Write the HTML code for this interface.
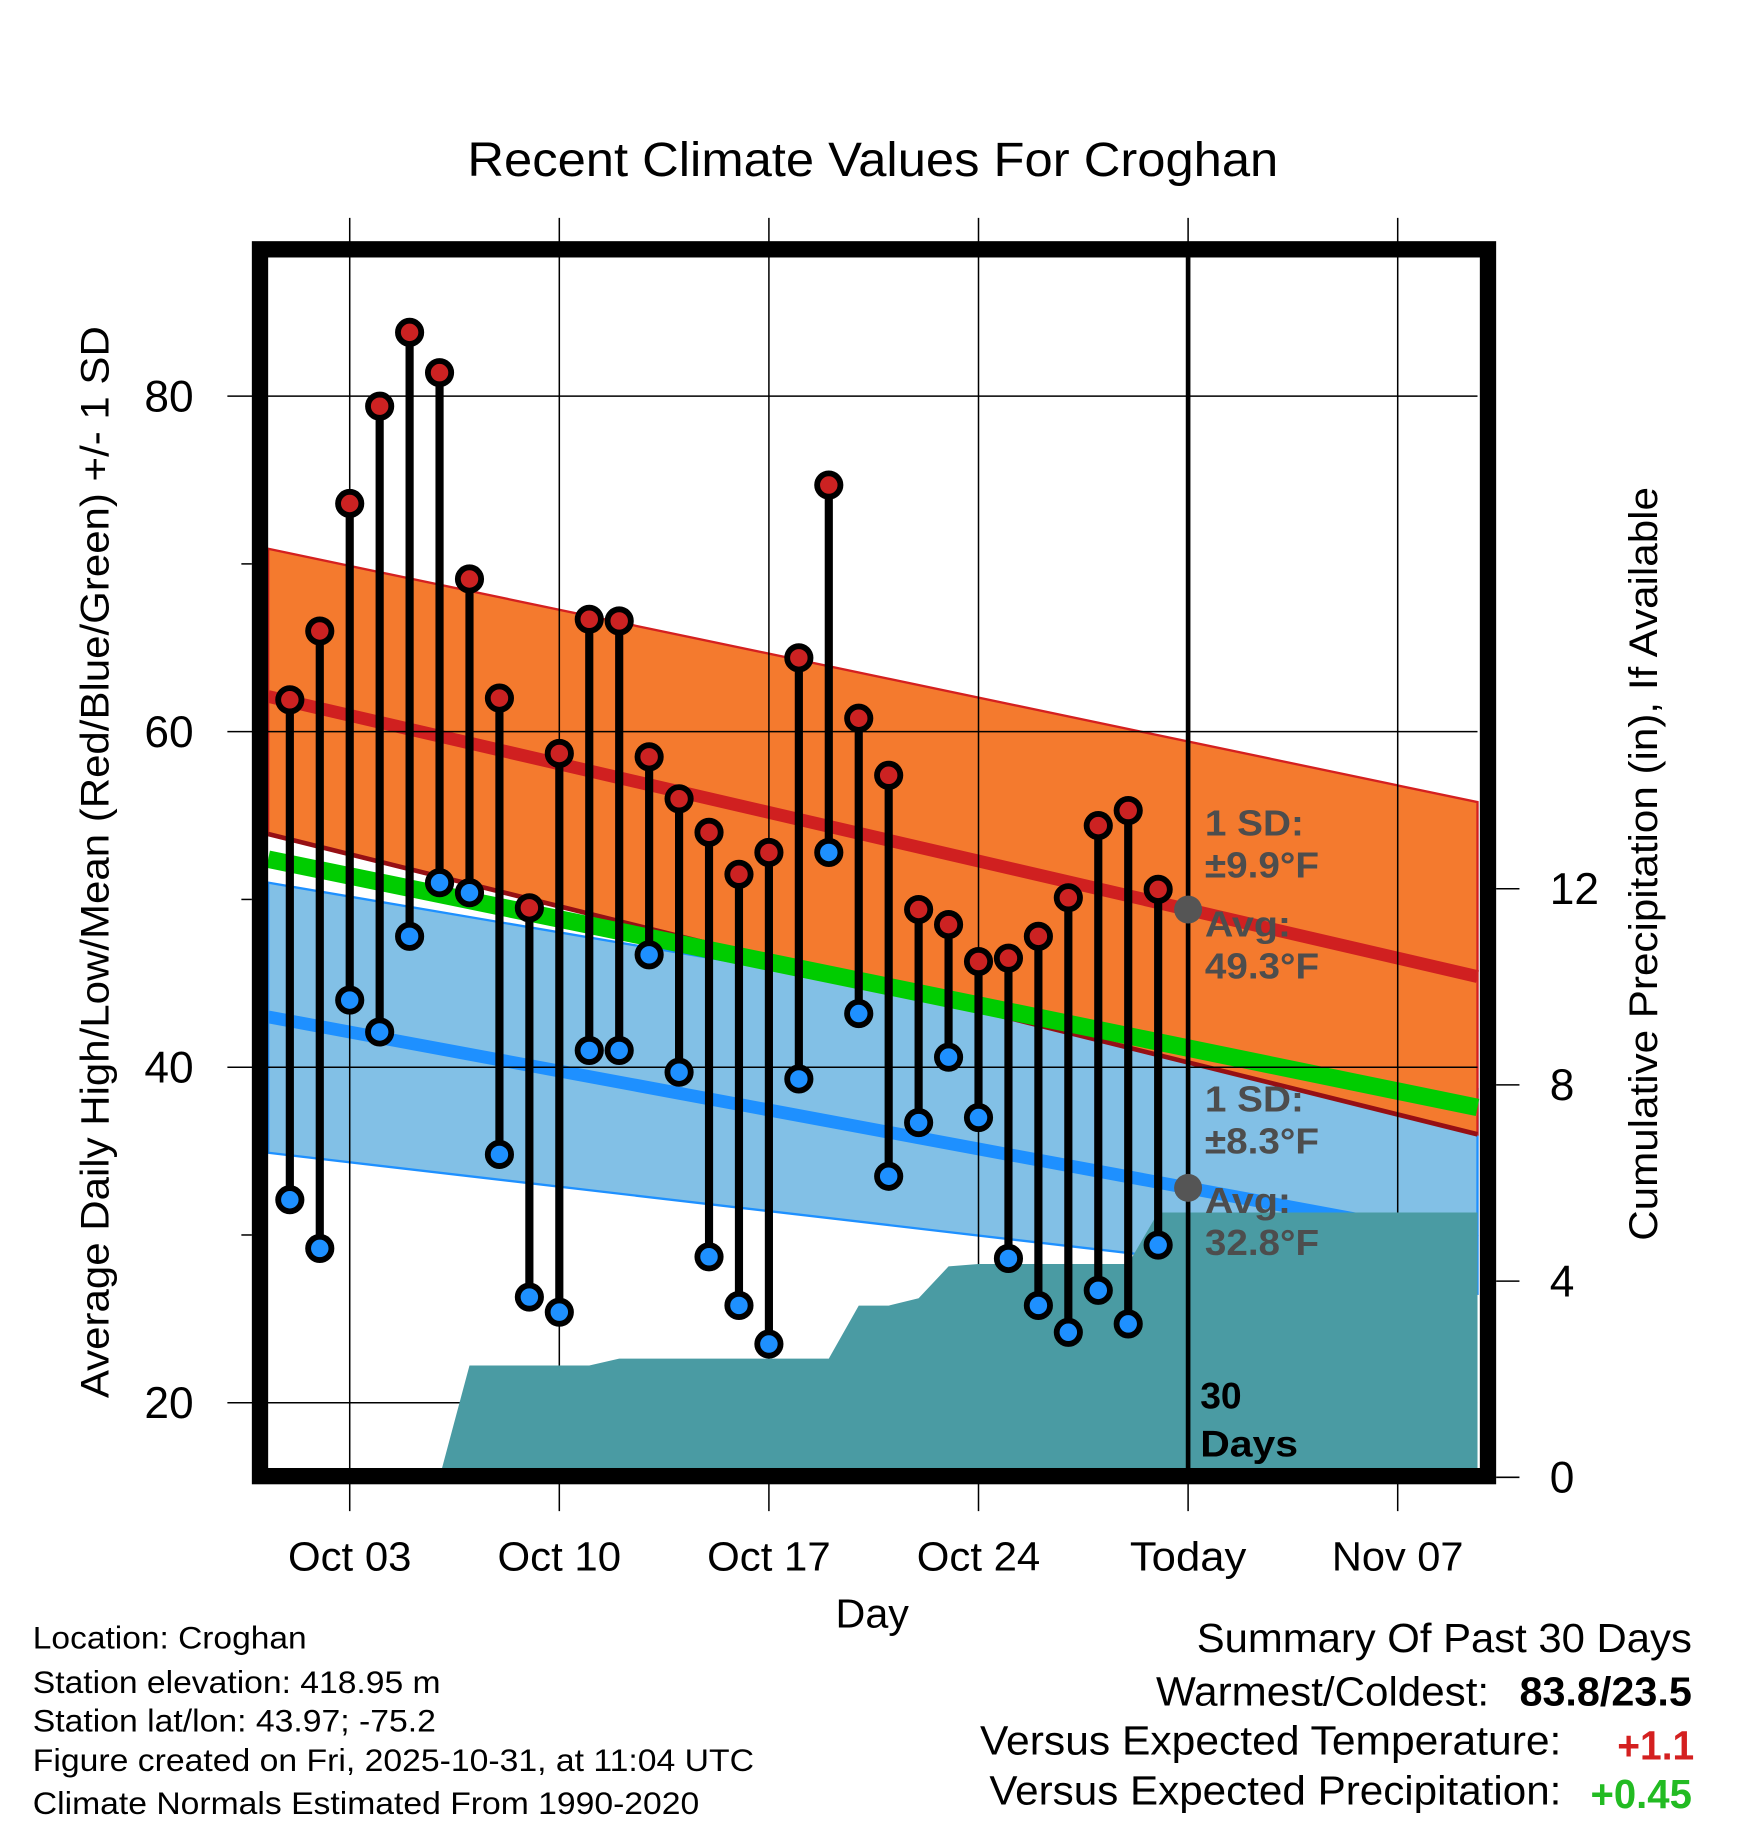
<!DOCTYPE html>
<html><head><meta charset="utf-8"><style>
html,body{margin:0;padding:0;background:#fff}
svg{display:block}
text{font-family:"Liberation Sans",Arial,sans-serif}
</style></head><body>
<svg id="chart" width="1748" height="1828" viewBox="0 0 1500 1569" xmlns="http://www.w3.org/2000/svg">
<g id="bands"></g><g id="grid"></g><g id="precip"></g><g id="overlay"></g><g id="marks"></g><g id="frame"></g><g id="labels"></g>
</svg>
<script>
const days = ["Oct 01","Oct 02","Oct 03","Oct 04","Oct 05","Oct 06","Oct 07","Oct 08","Oct 09","Oct 10","Oct 11","Oct 12","Oct 13","Oct 14","Oct 15","Oct 16","Oct 17","Oct 18","Oct 19","Oct 20","Oct 21","Oct 22","Oct 23","Oct 24","Oct 25","Oct 26","Oct 27","Oct 28","Oct 29","Oct 30"];
const highs = [61.9,66.0,73.6,79.4,83.8,81.4,69.1,62.0,49.5,58.7,66.7,66.6,58.5,56.0,54.0,51.5,52.8,64.4,74.7,60.8,57.4,49.4,48.5,46.3,46.5,47.8,50.1,54.4,55.3,50.6];
const lows = [32.1,29.2,44.0,42.1,47.8,51.0,50.4,34.8,26.3,25.4,41.0,41.0,46.7,39.7,28.7,25.8,23.5,39.3,52.8,43.2,33.5,36.7,40.6,37.0,28.6,25.8,24.2,26.7,24.7,29.4];
const precip = [0,0,0,0,0,0,2.28,2.28,2.28,2.28,2.28,2.42,2.42,2.42,2.42,2.42,2.42,2.42,2.42,3.5,3.5,3.65,4.3,4.35,4.35,4.35,4.35,4.35,4.35,5.4];
const normHighMean = [62.1,45.4];
const normHighUpper = [70.9,55.8];
const normHighLower = [53.9,36.0];
const normLowMean = [43.0,29.6];
const normLowUpper = [51.0,38.7];
const normLowLower = [34.9,26.5];
const normMean = [52.4,37.6];
const yTicks = [20,40,60,80];
const yMinor = [30,50,70];
const pTicks = [0,4,8,12];
const xTickDays = [3,10,17,24,31,38];
const xTickLabels = ["Oct 03","Oct 10","Oct 17","Oct 24","Today","Nov 07"];

const NS="http://www.w3.org/2000/svg";
const L=230,R=1268,T=221,B=1260;
const x=d=>248.6+(d-1)*25.7;
const y=t=>340+(80-t)*14.4;
const yp=p=>1268-p*42.1;
const d0=(L-248.6)/25.7+1, d1=(R-248.6)/25.7+1;
function el(tag,attrs,parent,txt){const e=document.createElementNS(NS,tag);for(const k in attrs)e.setAttribute(k,attrs[k]);if(txt!==undefined)e.textContent=txt;document.getElementById(parent).appendChild(e);return e;}
function band(a,b){return `M${L},${y(a[0])} L${R},${y(a[1])} L${R},${y(b[1])} L${L},${y(b[0])} Z`;}

let e;
e=el('path',{d:band(normLowUpper,normLowLower),fill:'#82c0e6',stroke:'#1e90ff','stroke-width':2},'bands');

e=el('path',{d:band(normHighUpper,normHighLower),fill:'#f47a2e',stroke:'#d42020','stroke-width':2},'bands');

e=el('line',{x1:L,y1:y(normHighLower[0]),x2:R,y2:y(normHighLower[1]),stroke:'#960f14','stroke-width':4},'bands');

e=el('line',{x1:L,y1:y(normMean[0]),x2:R,y2:y(normMean[1]),stroke:'#00cc00','stroke-width':15},'bands');

e=el('line',{x1:L,y1:y(normHighMean[0]),x2:R,y2:y(normHighMean[1]),stroke:'#d02020','stroke-width':11},'bands');

e=el('line',{x1:L,y1:y(normLowMean[0]),x2:R,y2:y(normLowMean[1]),stroke:'#1e90ff','stroke-width':11},'bands');


yTicks.forEach(t=>{
 e=el('line',{x1:195,y1:y(t),x2:R,y2:y(t),stroke:'#000','stroke-width':1.3},'grid');
 
 e=el('text',{x:166,y:y(t)+13,'font-size':38,'text-anchor':'end'},'labels',String(t));
 
});
yMinor.forEach(t=>{
 e=el('line',{x1:207,y1:y(t),x2:216,y2:y(t),stroke:'#000','stroke-width':1.3},'grid');
 
});
xTickDays.forEach((d,i)=>{
 e=el('line',{x1:x(d),y1:187,x2:x(d),y2:1297,stroke:'#000','stroke-width':1.3},'grid');
 
 const lab=xTickLabels[i];
 const len=lab==="Today"?100:(lab.startsWith("Nov")?113:106);
 e=el('text',{x:x(d),y:1348,'font-size':35,'text-anchor':'middle',textLength:len,lengthAdjust:'spacingAndGlyphs'},'labels',lab);
 
});
pTicks.forEach(p=>{
 e=el('line',{x1:1284,y1:yp(p),x2:1304,y2:yp(p),stroke:'#000','stroke-width':1.3},'grid');
 
 e=el('text',{x:1330,y:yp(p)+13,'font-size':38},'labels',String(p));
 
});

let pd=`M${x(0)},${B} L${x(0)},${yp(0)}`;
precip.forEach((p,i)=>{pd+=` L${x(i+1)},${yp(p)}`;});
pd+=` L${R},${yp(precip[precip.length-1])} L${R},${B} Z`;
e=el('path',{d:pd,fill:'#4a9ba3'},'precip');


e=el('line',{x1:x(31),y1:T,x2:x(31),y2:B,stroke:'#000','stroke-width':4},'overlay');

const hmToday=normHighMean[0]+(normHighMean[1]-normHighMean[0])*(31-d0)/(d1-d0);
const lmToday=normLowMean[0]+(normLowMean[1]-normLowMean[0])*(31-d0)/(d1-d0);
e=el('circle',{cx:x(31),cy:y(hmToday),r:12,fill:'#555'},'overlay');

e=el('circle',{cx:x(31),cy:y(lmToday),r:12,fill:'#555'},'overlay');

[["1 SD:",717,85],["±9.9°F",753,98],["Avg:",804,74],["49.3°F",840,98],["1 SD:",954,85],["±8.3°F",990,98],["Avg:",1041,74],["32.8°F",1077,98]].forEach(a=>{
 e=el('text',{x:1034,y:a[1],'font-size':31,'font-weight':'bold',fill:'#4d4d4d',textLength:a[2],lengthAdjust:'spacingAndGlyphs'},'overlay',a[0]);
 
});
e=el('text',{x:1030,y:1209,'font-size':32,'font-weight':'bold'},'overlay','30');

e=el('text',{x:1030,y:1250,'font-size':32,'font-weight':'bold',textLength:84,lengthAdjust:'spacingAndGlyphs'},'overlay','Days');


highs.forEach((h,i)=>{
 const cx=x(i+1);
 e=el('line',{x1:cx,y1:y(h),x2:cx,y2:y(lows[i]),stroke:'#000','stroke-width':7},'marks');
 
 e=el('circle',{cx:cx,cy:y(h),r:10,fill:'#cc2222',stroke:'#000','stroke-width':5},'marks');
 
 e=el('circle',{cx:cx,cy:y(lows[i]),r:10,fill:'#1e90ff',stroke:'#000','stroke-width':5},'marks');
 
});

e=el('rect',{x:223,y:214,width:1054,height:1053,fill:'none',stroke:'#000','stroke-width':14},'frame');

</script>
<svg style="position:absolute;left:0;top:0" width="1748" height="1828" viewBox="0 0 1500 1569">
<text x="401" y="151" font-size="41" textLength="696" lengthAdjust="spacingAndGlyphs">Recent Climate Values For Croghan</text>
<text x="717" y="1397" font-size="35" textLength="63" lengthAdjust="spacingAndGlyphs">Day</text>
<text transform="translate(93,1200) rotate(-90)" font-size="34" textLength="920" lengthAdjust="spacingAndGlyphs">Average Daily High/Low/Mean (Red/Blue/Green) +/- 1 SD</text>
<text transform="translate(1422,1065) rotate(-90)" font-size="34" textLength="647" lengthAdjust="spacingAndGlyphs">Cumulative Precipitation (in), If Available</text>
<g font-size="27">
<text x="28" y="1415" textLength="235" lengthAdjust="spacingAndGlyphs">Location: Croghan</text>
<text x="28" y="1453" textLength="350" lengthAdjust="spacingAndGlyphs">Station elevation: 418.95 m</text>
<text x="28" y="1486" textLength="346" lengthAdjust="spacingAndGlyphs">Station lat/lon: 43.97; -75.2</text>
<text x="28" y="1520" textLength="619" lengthAdjust="spacingAndGlyphs">Figure created on Fri, 2025-10-31, at 11:04 UTC</text>
<text x="28" y="1557" textLength="572" lengthAdjust="spacingAndGlyphs">Climate Normals Estimated From 1990-2020</text>
</g>
<g font-size="35">
<text x="1027" y="1418" textLength="425" lengthAdjust="spacingAndGlyphs">Summary Of Past 30 Days</text>
<text x="992" y="1464" textLength="286" lengthAdjust="spacingAndGlyphs">Warmest/Coldest:</text>
<text x="1304" y="1464" font-weight="bold" textLength="148" lengthAdjust="spacingAndGlyphs">83.8/23.5</text>
<text x="841" y="1506" textLength="499" lengthAdjust="spacingAndGlyphs">Versus Expected Temperature:</text>
<text x="1388" y="1510" font-weight="bold" fill="#d42020" textLength="66" lengthAdjust="spacingAndGlyphs">+1.1</text>
<text x="849" y="1549" textLength="491" lengthAdjust="spacingAndGlyphs">Versus Expected Precipitation:</text>
<text x="1365" y="1552" font-weight="bold" fill="#22bb22" textLength="87" lengthAdjust="spacingAndGlyphs">+0.45</text>
</g>
</svg>
</body></html>
